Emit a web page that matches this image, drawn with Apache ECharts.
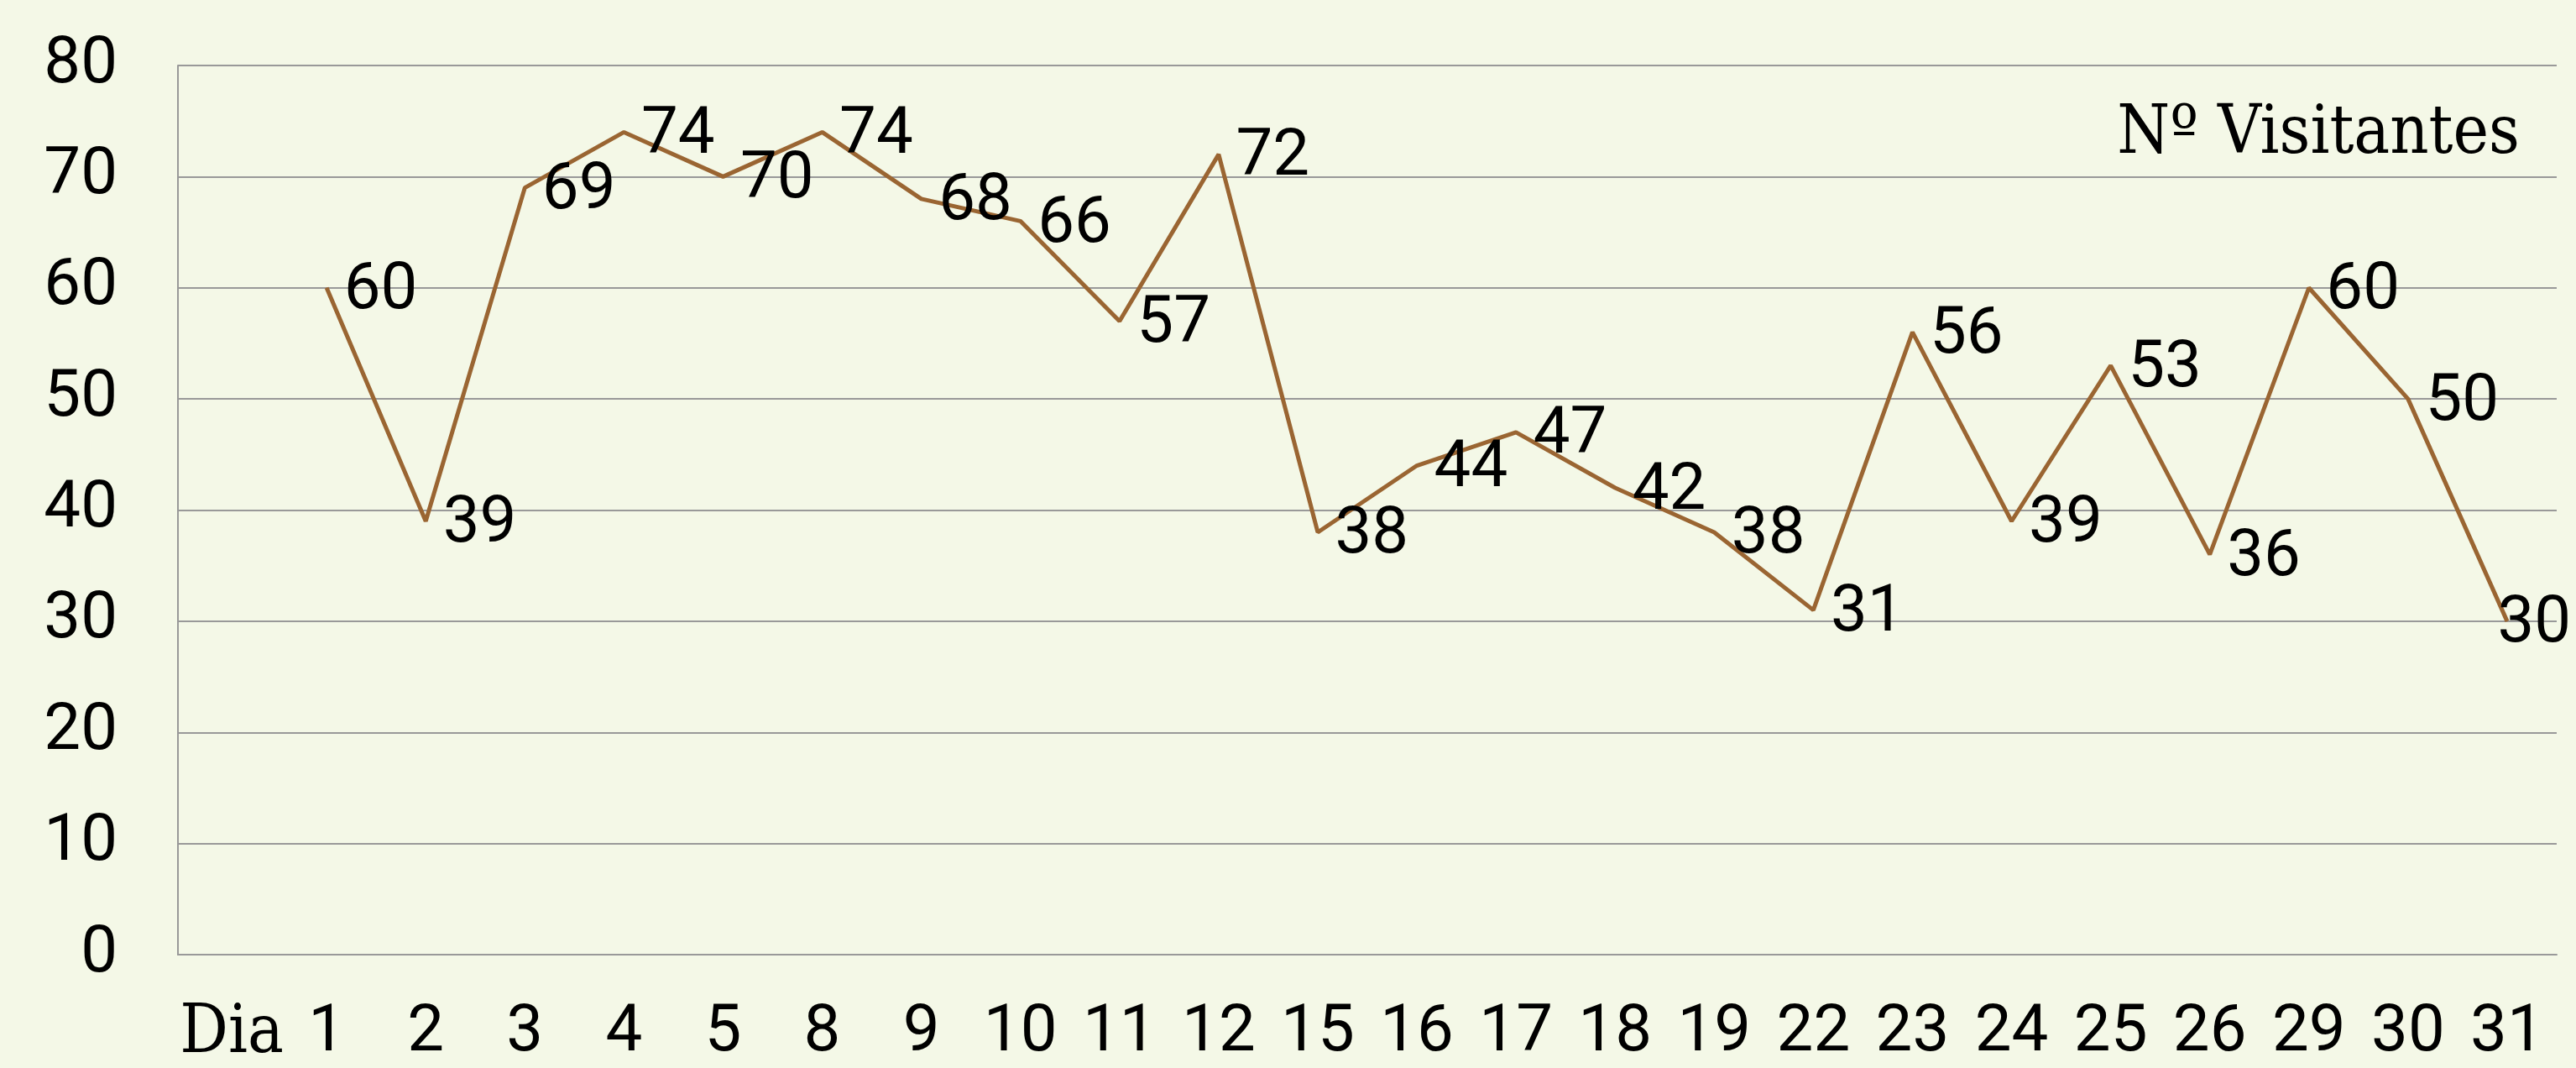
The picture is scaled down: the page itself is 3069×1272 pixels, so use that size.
<!DOCTYPE html>
<html>
<head>
<meta charset="utf-8">
<script src="https://cdn.jsdelivr.net/npm/echarts@6/dist/echarts.min.js"></script>
<style>
  html, body { margin: 0; padding: 0; background: #f4f8e7; }
  #chart { width: 3069px; height: 1272px; }
</style>
</head>
<body>
<div id="chart"></div>
<script>
// dias do mes (o primeiro rotulo e o nome do eixo)
const dias = ['Dia', '1', '2', '3', '4', '5', '8', '9', '10', '11', '12', '15', '16', '17', '18', '19',
  '22', '23', '24', '25', '26', '29', '30', '31']
const visitantes = [60, 39, 69, 74, 70, 74, 68, 66, 57, 72, 38, 44, 47, 42, 38, 31, 56, 39, 53, 36, 60, 50, 30]
const serieNome = 'Nº Visitantes'
const yTicks = { min: 0, max: 80, step: 10 }

const numFont = 'Roboto'
const slabFont = 'DejaVu Serif Condensed'

// 'Dia' nao tem valor
const serieData = [null].concat(visitantes).map(function (v, i, arr) {
  if (i === arr.length - 1) {
    return { value: v, label: { distance: -12 } }
  }
  return v
})

const options = {
  backgroundColor: '#f4f8e7',
  animation: false,
  grid: {
    left: 212,
    right: 23,
    top: 78,
    bottom: 135,
    containLabel: false
  },
  legend: {
    right: 62,
    top: 116,
    icon: 'none',
    itemWidth: 0,
    itemGap: 0,
    textStyle: {
      fontFamily: slabFont,
      fontSize: 80,
      color: '#000'
    },
    data: [serieNome]
  },
  xAxis: {
    type: 'category',
    data: dias,
    boundaryGap: true,
    axisLine: { lineStyle: { color: '#999', width: 2 } },
    axisTick: { show: false },
    axisLabel: {
      interval: 0,
      margin: 55,
      color: '#000',
      fontFamily: numFont,
      fontSize: 78,
      formatter: function (v) {
        return v === 'Dia' ? '{d|Dia}' : v
      },
      rich: {
        d: { fontFamily: slabFont, fontSize: 80, color: '#000', padding: [0, 0, 0, 10] }
      }
    }
  },
  yAxis: {
    type: 'value',
    min: yTicks.min,
    max: yTicks.max,
    interval: yTicks.step,
    axisLine: { show: true, lineStyle: { color: '#999', width: 2 } },
    axisTick: { show: false },
    splitLine: { lineStyle: { color: '#999', width: 2 } },
    axisLabel: {
      margin: 72,
      color: '#000',
      fontFamily: numFont,
      fontSize: 78
    }
  },
  series: [
    {
      name: serieNome,
      type: 'line',
      data: serieData,
      connectNulls: false,
      symbol: 'circle',
      symbolSize: 1,
      color: '#9a6532',
      lineStyle: { color: '#9a6532', width: 5 },
      itemStyle: { color: '#9a6532' },
      label: {
        show: true,
        position: 'right',
        distance: 20,
        offset: [0, 5],
        color: '#000',
        fontFamily: numFont,
        fontSize: 78
      }
    }
  ]
}

const chart = echarts.init(document.getElementById('chart'))
chart.setOption(options)
</script>
</body>
</html>
